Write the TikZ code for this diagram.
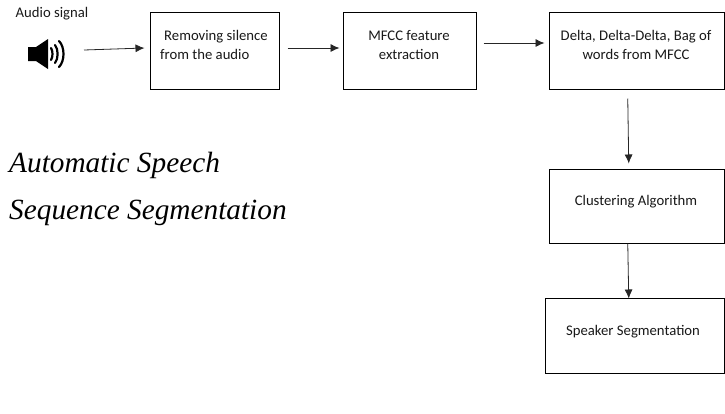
\documentclass[tikz,border=0pt]{standalone}
\usepackage{fontspec}
\setmainfont{Carlito}
\newfontfamily\titlefont{Liberation Serif}
\usetikzlibrary{arrows.meta,calc}
\tikzset{
  boxnode/.style={draw=black,line width=0.9pt,fill=white,anchor=north west,inner sep=0pt,outer sep=0pt},
  boxtext/.style={font=\fontsize{14.7}{19}\selectfont,text=black!90,align=center,inner sep=0pt},
  flow/.style={draw=black!85,line width=0.8pt,-{Latex[length=9pt,width=8pt]}},
  titletext/.style={font=\titlefont\itshape\fontsize{29.3}{29}\selectfont,text=black,anchor=base west,inner sep=0pt},
}
\begin{document}
\begin{tikzpicture}[x=1pt,y=-1pt]
\useasboundingbox (0,0) rectangle (725,413);
\node[boxnode,minimum width=129pt,minimum height=77pt] (b1) at (150.5,12.5) {};
\node[boxnode,minimum width=133pt,minimum height=77pt] (b2) at (343.5,12.5) {};
\node[boxnode,minimum width=174.5pt,minimum height=77pt] (b3) at (549.5,12.5) {};
\node[boxnode,minimum width=174.5pt,minimum height=74pt] (b4) at (549.5,169.5) {};
\node[boxnode,minimum width=178.5pt,minimum height=75pt] (b5) at (545.5,298.5) {};
\node[boxtext,align=left] (t1) at (214,45) {\hspace*{4pt}Removing silence\\from the audio};
\node[boxtext] (t2) at (409,45) {MFCC feature\\extraction};
\node[boxtext] (t3) at (636,45) {Delta, Delta-Delta, Bag of\\words from MFCC};
\node[boxtext] (t4) at (636,202) {Clustering Algorithm};
\node[boxtext] (t5) at (633,332) {Speaker Segmentation};
\node[boxtext,anchor=west] (audio) at (15.5,14) {Audio signal};
\node[titletext] (title1) at (9,172.5) {Automatic Speech};
\node[titletext] (title2) at (9,219.5) {Sequence Segmentation};
% speaker icon
\fill[black] (28,47) -- (36,47) -- (48,39) -- (48,69) -- (36,61) -- (28,61) -- cycle;
\begin{scope}[draw=black,line width=2.2pt,line cap=round]
\draw (51,48) .. controls (53,51) and (53,57) .. (51,60);
\draw (55,45) .. controls (58.5,49) and (58.5,59) .. (55,63);
\draw (59,41) .. controls (65,47) and (65,61) .. (59,67);
\end{scope}
\coordinate (spkout) at (84,50);
\draw[flow] (spkout) -- ([xshift=-6pt,yshift=3pt]b1.west);
\draw[flow] ([xshift=8pt,yshift=3pt]b1.east) -- ([xshift=-4pt,yshift=3pt]b2.west);
\draw[flow] ([xshift=7pt,yshift=8pt]b2.east) -- ([xshift=-5pt,yshift=8pt]b3.west);
\draw[flow] ([xshift=-9pt,yshift=-9pt]b3.south) -- ([xshift=-8pt,yshift=6pt]b4.north);
\draw[flow] ([xshift=-9pt]b4.south) -- ([xshift=-6pt]b5.north);
\end{tikzpicture}
\end{document}
